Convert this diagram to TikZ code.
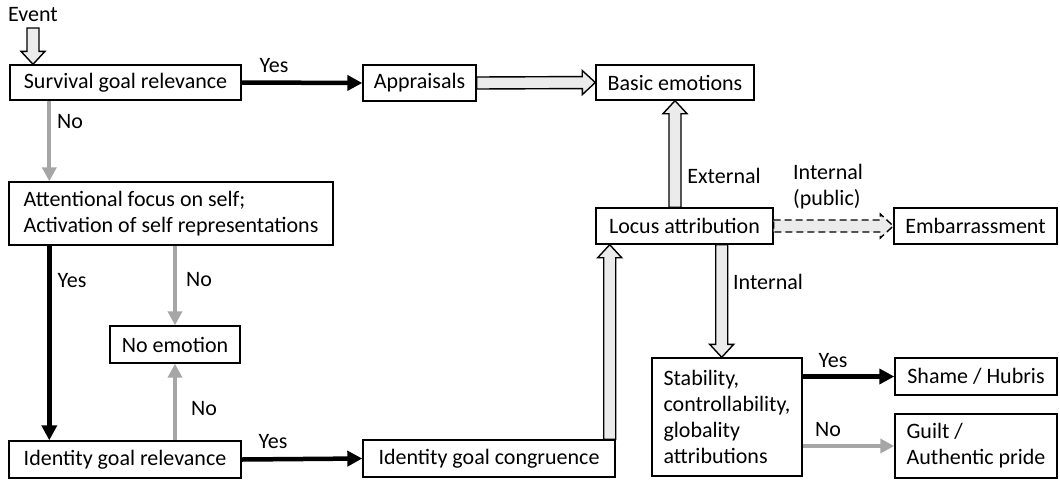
\documentclass[tikz,border=0pt]{standalone}
\usepackage{fontspec}
\setmainfont{Carlito}
\usetikzlibrary{arrows.meta,calc}
\definecolor{arrgray}{HTML}{A6A6A6}
\definecolor{fillgray}{HTML}{EBEBEB}
\tikzset{
  box/.style={draw,line width=1.4pt,inner sep=0pt,align=left},
  lbl/.style={inner sep=0pt},
  yesarr/.style={line width=4.5pt,-{Triangle[length=15pt,width=15pt]}},
  noarr/.style={arrgray,line width=4pt,-{Triangle[length=14pt,width=14pt]}},
  hollow/.style={draw,fill=fillgray,line width=1.4pt}
}
\newcommand{\hollowarrow}[3][]{%
  \coordinate (hb) at ($(#3)!13pt!(#2)$);
  \draw[hollow,#1] ($(#2)!6pt!90:(#3)$) -- ($(hb)!6pt!90:(#3)$) -- ($(hb)!12pt!90:(#3)$)
    -- (#3) -- ($(hb)!12pt!-90:(#3)$) -- ($(hb)!6pt!-90:(#3)$) -- ($(#2)!6pt!-90:(#3)$) -- cycle;}
\begin{document}
\begin{tikzpicture}[x=1pt,y=-1pt,font=\fontsize{22}{26}\selectfont]
      \useasboundingbox (0,0) rectangle (1060,480);
      \node (event) at (33,15) [lbl] {Event};
      \node (surv) at (125.5,82.5) [box,minimum width=231pt,minimum height=35pt] {Survival goal relevance};
      \node (appr) at (419.5,83) [box,minimum width=113pt,minimum height=36pt] {Appraisals};
      \node (basic) at (675,82.5) [box,minimum width=158pt,minimum height=35pt] {Basic emotions};
      \node (attn) at (171,213.5) [box,minimum width=324pt,minimum height=63pt] {Attentional focus on self;\\Activation of self representations};
      \node (noemo) at (175,344.5) [box,minimum width=130pt,minimum height=37pt] {No emotion};
      \node (idrel) at (125,459.5) [box,minimum width=232pt,minimum height=37pt] {Identity goal relevance};
      \node (idcong) at (489,458.5) [box,minimum width=252pt,minimum height=37pt] {Identity goal congruence};
      \node (locus) at (684.5,226) [box,minimum width=177pt,minimum height=36pt] {Locus attribution};
      \node (embar) at (975.5,226) [box,minimum width=163pt,minimum height=36pt] {Embarrassment};
      \node (stab) at (727,417) [box,minimum width=150pt,minimum height=118pt] {Stability,\\controllability,\\globality\\attributions};
      \node (shame) at (976,376.5) [box,minimum width=162pt,minimum height=37pt] {Shame / Hubris};
      \node (guilt) at (976,446) [box,minimum width=162pt,minimum height=64pt] {Guilt /\\Authentic pride};
      \coordinate (evtop) at (33,28);
      \coordinate (evtip) at (evtop |- surv.north);
      \hollowarrow{evtop}{evtip}
      \draw [yesarr](surv.east)--(appr.west);
      \node (yes1) at (274,66) [lbl] {Yes};
      \hollowarrow{appr.east}{basic.west}
      \draw [noarr]([xshift=40pt]surv.south west)--([xshift=41pt]attn.north west);
      \node (no1) at (70,122) [lbl] {No};
      \draw [yesarr]([xshift=41pt]attn.south west)--([xshift=41pt]idrel.north west);
      \node (yes2) at (72,281) [lbl] {Yes};
      \draw [noarr](noemo.north |- attn.south)--(noemo.north);
      \node (no2) at (199,280) [lbl] {No};
      \draw [noarr](noemo.south |- idrel.north)--(noemo.south);
      \node (no3) at (204,409) [lbl] {No};
      \draw [yesarr](idrel.east)--(idcong.west);
      \node (yes3) at (273,442) [lbl] {Yes};
      \coordinate (congup) at ([xshift=-6pt]idcong.north east);
      \coordinate (locusin) at (congup |- locus.south);
      \hollowarrow{congup}{locusin}
      \coordinate (extfrom) at (basic.south |- locus.north);
      \hollowarrow{extfrom}{basic.south}
      \node (ext) at (724,176) [lbl] {External};
      \hollowarrow[dash pattern=on 7pt off 4pt]{locus.east}{embar.west}
      \node (intpub) at (828,187) [lbl,align=left] {Internal\\(public)};
      \coordinate (intfrom) at ([xshift=-52pt]locus.south east);
      \coordinate (intto) at (intfrom |- stab.north);
      \hollowarrow{intfrom}{intto}
      \node (int) at (768,282) [lbl] {Internal};
      \draw [yesarr](stab.east |- shame.west)--(shame.west);
      \node (yes4) at (833,361) [lbl] {Yes};
      \draw [noarr](stab.east |- guilt.west)--(guilt.west);
      \node (no4) at (828,430) [lbl] {No};
    \end{tikzpicture}
\end{document}
